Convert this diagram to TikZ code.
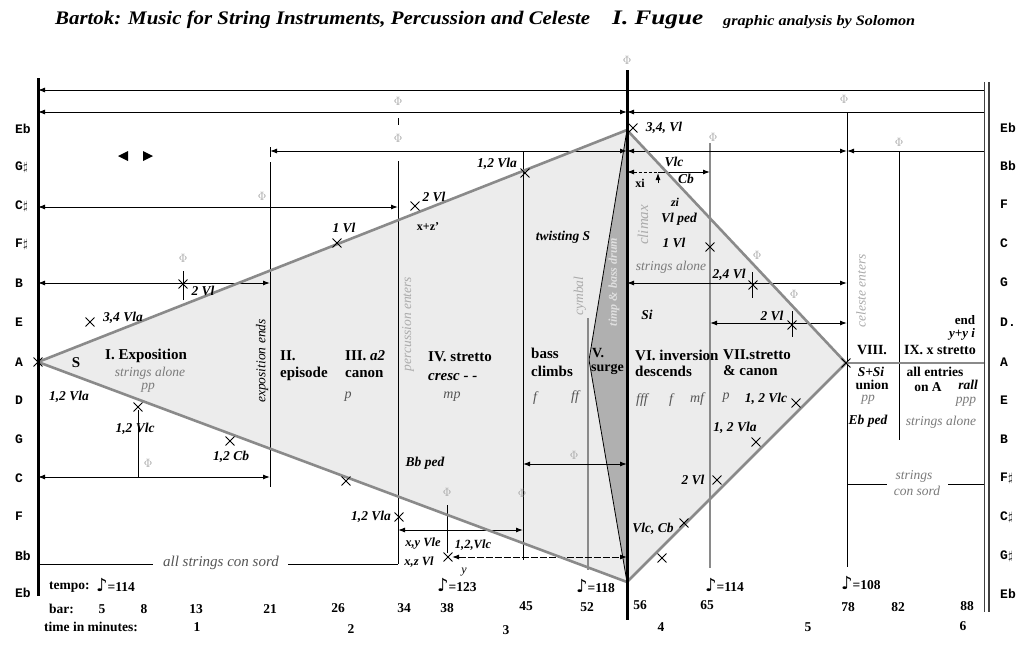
\documentclass[tikz,border=0pt]{standalone}
\usepackage{fontspec}
\usepackage{graphicx}
\setmainfont{Liberation Serif}
\newfontfamily\dejavu{DejaVu Sans}
\newfontfamily\monob{Liberation Mono}
\usetikzlibrary{arrows.meta,shapes.misc}
\definecolor{lightfill}{HTML}{ECECEC}
\definecolor{wedgec}{HTML}{B0B0B0}
\definecolor{edgec}{HTML}{8A8A8A}
\definecolor{txtgray}{HTML}{7A7A7A}
\definecolor{ltgray}{HTML}{ABABAB}
\definecolor{dyngray}{HTML}{555555}
\definecolor{phigray}{HTML}{A8A8A8}
\newcommand\fsz[1]{\fontsize{#1}{#1}\selectfont}
\newcommand\nt{{\dejavu\fsz{18}♪}}
\newcommand\xmk[2]{\node[xmark] (#1) at (#2) {};}
\begin{document}
\begin{tikzpicture}[x=1pt,y=-1pt,
  >={Latex[length=7pt,width=5pt]},
  sec/.style={font=\bfseries\fsz{15}, inner sep=0pt, anchor=west},
  inst/.style={font=\bfseries\itshape\fsz{13.5}, inner sep=0pt},
  grt/.style={font=\itshape\fsz{13.5}, text=txtgray, inner sep=0pt},
  rot/.style={font=\itshape\fsz{13.5}, text=ltgray, inner sep=0pt, rotate=90},
  dyn/.style={font=\itshape\fsz{14}, text=dyngray, inner sep=0pt},
  num/.style={font=\bfseries\fsz{13.5}, inner sep=0pt},
  pitch/.style={font=\monob\bfseries\fsz{13}, inner sep=0pt, anchor=west},
  phi/.style={text=phigray, font=\fsz{12}, inner sep=0pt},
  xmark/.style={draw, cross out, minimum size=8pt, inner sep=0pt, line width=0.9pt},
  ln/.style={line width=1pt},
  edge/.style={draw=edgec, line width=2.6pt, line join=round, line cap=round}]
\useasboundingbox (0,0) rectangle (1024,661);
\fill[white] (0,0) rectangle (1024,661);

% title
\node[anchor=west, inner sep=0pt] (title) at (55,20) {\resizebox{535pt}{13.5pt}{\bfseries\itshape Bartok: Music for String Instruments, Percussion and Celeste}};
\node[anchor=west, inner sep=0pt] (fugue) at (612,20) {\resizebox{91pt}{13.5pt}{\bfseries\itshape I. Fugue}};
\node[anchor=west, inner sep=0pt] (solo) at (723,22) {\resizebox{192pt}{10pt}{\bfseries\itshape graphic analysis by Solomon}};

% diamond
\coordinate (L) at (38,362);
\coordinate (T) at (627,130);
\coordinate (B) at (627,582);
\coordinate (R) at (846,363);
\coordinate (W) at (589,360);
\fill[lightfill] (L)--(T)--(R)--(B)--cycle;
\fill[wedgec] (T)--(W)--(B)--cycle;
\draw[line width=0.8pt] (T)--(W)--(B);

% vertical lines
\draw[ln] (270,147)--(270,157);
\draw[ln] (270,162)--(270,487);
\draw[ln] (398,118)--(398,125);
\draw[ln] (398,161)--(398,564);
\draw[ln] (523,151)--(523,560);
\draw[ln] (447,505)--(447,553);
\draw[ln] (138,410)--(138,477);
\draw[draw=edgec, line width=2pt] (588,318)--(588,570);
\draw[draw=edgec, line width=1.6pt] (710,143)--(710,568);
\draw[ln] (847,112)--(847,567);
\draw[ln] (899,151)--(899,440);
\draw[ln] (183,271)--(183,300);
\draw[ln] (752,272)--(752,298);
\draw[ln] (792,311)--(792,337);

% horizontal lines
\draw[ln,<-] (38,90)--(984,90);
\draw[ln,<->] (38,112)--(627,112);
\draw[ln,<-] (627,112)--(984,112);
\draw[ln,<->] (270,151)--(627,151);
\draw[ln,<->] (627,151)--(847,151);
\draw[ln,<-] (847,151)--(984,151);
\draw[ln,<->] (38,207)--(398,207);
\draw[ln,<->] (38,283)--(270,283);
\draw[ln,<->] (38,477)--(270,477);
\draw[ln,<->] (398,530)--(523,530);
\draw[ln,<->,dash pattern=on 7pt off 2pt] (452,557)--(627,557);
\draw[ln,<->] (523,464)--(627,464);
\draw[ln] (38,564)--(153,564);
\draw[ln] (288,564)--(398,564);
\draw[ln,<-,dash pattern=on 3pt off 2pt] (627,172)--(658,172);
\draw[ln,->] (658,172)--(710,172);
\draw[line width=0.8pt,->] (658,183)--(658,173);
\draw[ln,<->] (627,283)--(847,283);
\draw[ln,<->] (710,323)--(847,323);
\draw[edge] (R)--(984,363);
\draw[ln] (847,484)--(887,484);
\draw[ln] (948,484)--(984,484);

% outline
\draw[edge] (L)--(T)--(R)--(B)--cycle;

% main verticals
\draw[line width=3pt] (38,78)--(38,596);
\draw[line width=3pt] (627,70)--(627,620);
\draw[line width=1.7pt, draw=black!75] (984.5,82)--(984.5,612);
\draw[line width=1.7pt, draw=black!75] (988.8,82)--(988.8,612);

% small triangles
\fill (118,156)--(128,151)--(128,161)--cycle;
\fill (153,156)--(143,151)--(143,161)--cycle;

% pitch labels
\node[pitch] (pl1) at (15,129) {Eb};
\node[pitch] (pl2) at (15,167) {G$\sharp$};
\node[pitch] (pl3) at (15,206) {C$\sharp$};
\node[pitch] (pl4) at (15,244) {F$\sharp$};
\node[pitch] (pl5) at (15,283) {B};
\node[pitch] (pl6) at (15,322) {E};
\node[pitch] (pl7) at (15,362) {A};
\node[pitch] (pl8) at (15,400) {D};
\node[pitch] (pl9) at (15,439) {G};
\node[pitch] (pl10) at (15,478) {C};
\node[pitch] (pl11) at (15,516) {F};
\node[pitch] (pl12) at (15,556) {Bb};
\node[pitch] (pl13) at (15,593) {Eb};
\node[pitch] (pr1) at (1000,128) {Eb};
\node[pitch] (pr2) at (1000,166) {Bb};
\node[pitch] (pr3) at (1000,204) {F};
\node[pitch] (pr4) at (1000,243) {C};
\node[pitch] (pr5) at (1000,282) {G};
\node[pitch] (pr6) at (1000,322) {D.};
\node[pitch] (pr7) at (1000,362) {A};
\node[pitch] (pr8) at (1000,400) {E};
\node[pitch] (pr9) at (1000,439) {B};
\node[pitch] (pr10) at (1000,478) {F$\sharp$};
\node[pitch] (pr11) at (1000,517) {C$\sharp$};
\node[pitch] (pr12) at (1000,556) {G$\sharp$};
\node[pitch] (pr13) at (1000,594) {Eb};

% phi marks
\node[phi] (f1) at (627,60) {$\Phi$};
\node[phi] (f2) at (398,101) {$\Phi$};
\node[phi] (f3) at (844,99) {$\Phi$};
\node[phi] (f4) at (398,138) {$\Phi$};
\node[phi] (f5) at (713,137) {$\Phi$};
\node[phi] (f6) at (899,142) {$\Phi$};
\node[phi] (f7) at (262,196) {$\Phi$};
\node[phi] (f8) at (183,258) {$\Phi$};
\node[phi] (f9) at (757,255) {$\Phi$};
\node[phi] (f10) at (794,294) {$\Phi$};
\node[phi] (f11) at (148,463) {$\Phi$};
\node[phi] (f12) at (447,492) {$\Phi$};
\node[phi] (f13) at (522,493) {$\Phi$};
\node[phi] (f14) at (574,455) {$\Phi$};

% x marks
\xmk{m1}{38,362}
\xmk{m2}{90,322}
\xmk{m3}{183,284}
\xmk{m4}{138,407}
\xmk{m5}{230,441}
\xmk{m6}{337,243}
\xmk{m7}{415,206}
\xmk{m8}{525,173}
\xmk{m9}{633,128}
\xmk{m10}{710,247}
\xmk{m11}{753,285}
\xmk{m12}{792,325}
\xmk{m13}{846,363}
\xmk{m14}{796,403}
\xmk{m15}{756,442}
\xmk{m16}{717,480}
\xmk{m17}{684,523}
\xmk{m18}{662,558}
\xmk{m19}{346,481}
\xmk{m20}{399,517}
\xmk{m21}{448,557}

% left section texts
\node[font=\bfseries\fsz{15}, inner sep=0pt] (sS) at (76,363) {S};
\node[sec] (s1) at (105,356) {I. Exposition};
\node[grt] (s1a) at (150,373) {strings alone};
\node[grt] (s1b) at (148,388) {pp};
\node[inst] (i1) at (123,318) {3,4 Vla};
\node[inst] (i2) at (69,397) {1,2 Vla};
\node[inst] (i3) at (135,429) {1,2 Vlc};
\node[inst] (i4) at (231,457) {1,2 Cb};
\node[inst] (i5) at (203,291) {2 Vl};
\node[font=\itshape\fsz{13.5}, inner sep=0pt, rotate=90] (expend) at (262,361) {exposition ends};
\node[sec] (s2a) at (280,356) {II.};
\node[sec] (s2b) at (280,374) {episode};
\node[sec] (s3a) at (345,356) {III. \textit{a2}};
\node[sec] (s3b) at (345,374) {canon};
\node[dyn] (s3c) at (348,397) {p};
\node[rot] (perc) at (408,324) {percussion enters};
\node[sec] (s4a) at (428,357) {IV. stretto};
\node[sec, font=\bfseries\itshape\fsz{15}] (s4b) at (428,377) {cresc - -};
\node[dyn] (s4c) at (452,397) {mp};
\node[sec] (s5a) at (531,353) {bass};
\node[sec] (s5b) at (531,371) {climbs};
\node[dyn] (s5c) at (535,398) {f};
\node[dyn] (s5d) at (575,397) {ff};
\node[sec, font=\bfseries\fsz{14}] (s6a) at (592,353) {V.};
\node[sec, font=\bfseries\fsz{14}] (s6b) at (591,369) {surge};
\node[inst] (tw) at (563,237) {twisting S};
\node[rot] (cym) at (580,296) {cymbal};
\node[inst] (i6) at (344,228) {1 Vl};
\node[inst] (i7) at (434,197) {2 Vl};
\node[font=\bfseries\fsz{12}, inner sep=0pt] (xz) at (428,227) {x+z'};
\node[inst] (i8) at (497,164) {1,2 Vla};
\node[inst] (i9) at (664,128) {3,4, Vl};
\node[font=\bfseries\itshape\fsz{12}, inner sep=0pt, rotate=90, text=white!88!black] (timp) at (614,282) {timp \& bass drum};
\node[rot, font=\itshape\fsz{15}] (clim) at (643,225) {climax};

% right side texts
\node[inst] (i10) at (674,162) {Vlc};
\node[inst] (i11) at (686,179) {Cb};
\node[font=\bfseries\fsz{12}, inner sep=0pt] (xi) at (640,183) {xi};
\node[font=\bfseries\itshape\fsz{12}, inner sep=0pt] (zi) at (675,202) {zi};
\node[inst] (i12) at (679,219) {Vl ped};
\node[inst] (i13) at (674,243) {1 Vl};
\node[grt] (sa2) at (671,267) {strings alone};
\node[inst] (i14) at (729,275) {2,4 Vl};
\node[inst] (si) at (647,315) {Si};
\node[inst] (i15) at (772,316) {2 Vl};
\node[rot] (cel) at (861,291) {celeste enters};
\node[font=\bfseries\fsz{13}, inner sep=0pt] (endt) at (965,320) {end};
\node[font=\bfseries\itshape\fsz{13}, inner sep=0pt] (yy) at (962,334) {y+y i};
\node[font=\bfseries\fsz{14}, inner sep=0pt] (s8) at (872,350) {VIII.};
\node[font=\bfseries\fsz{14}, inner sep=0pt] (s9) at (940,350) {IX. x stretto};
\node[inst] (ssi) at (871,372) {S+Si};
\node[font=\bfseries\fsz{13.5}, inner sep=0pt] (un) at (872,385) {union};
\node[grt] (pp8) at (868,400) {pp};
\node[inst] (ebp) at (868,421) {Eb ped};
\node[font=\bfseries\fsz{13.5}, inner sep=0pt] (allen) at (935,372) {all entries};
\node[font=\bfseries\fsz{13.5}, inner sep=0pt] (ona) at (928,387) {on A};
\node[inst] (rall) at (968,385) {rall};
\node[grt] (ppp) at (966,402) {ppp};
\node[grt] (sa3) at (941,422) {strings alone};
\node[sec] (s6ia) at (635,355) {VI. inversion};
\node[sec] (s6ib) at (635,371) {descends};
\node[sec] (s7a) at (723,355) {VII.stretto};
\node[sec] (s7b) at (723,371) {\& canon};
\node[dyn] (d1) at (642,400) {fff};
\node[dyn] (d2) at (671,400) {f};
\node[dyn] (d3) at (697,399) {mf};
\node[dyn] (d4) at (726,398) {p};
\node[inst] (i16) at (766,399) {1, 2 Vlc};
\node[inst] (i17) at (735,428) {1, 2 Vla};
\node[inst] (i18) at (693,480) {2 Vl};
\node[inst] (i19) at (653,529) {Vlc, Cb};
\node[grt] (scs1) at (914,476) {strings};
\node[grt] (scs2) at (917,491) {con sord};

% bottom-left texts
\node[inst] (bbp) at (425,463) {Bb ped};
\node[inst] (i20) at (371,517) {1,2 Vla};
\node[inst, font=\bfseries\itshape\fsz{12.5}] (i21) at (423,544) {x,y Vle};
\node[inst, font=\bfseries\itshape\fsz{12.5}] (i22) at (419,562) {x,z Vl};
\node[inst, font=\bfseries\itshape\fsz{12.5}] (i23) at (473,545) {1,2,Vlc};
\node[font=\itshape\fsz{12}, inner sep=0pt] (yl) at (464,572) {y};
\node[grt, font=\itshape\fsz{15}, text=dyngray] (acs) at (221,563) {all strings con sord};

% tempo, bars, time
\node[num, anchor=west] (tempo) at (49,587) {tempo:};
\node[num, anchor=west] (t1) at (96,585) {\nt=114};
\node[num, anchor=west] (t2) at (437,585) {\nt=123};
\node[num, anchor=west] (t3) at (576,586) {\nt=118};
\node[num, anchor=west] (t4) at (705,585) {\nt=114};
\node[num, anchor=west] (t5) at (841,583) {\nt=108};
\node[num, anchor=west] (bar) at (49,609) {bar:};
\node[num] (b1) at (102,609) {5};
\node[num] (b2) at (144,609) {8};
\node[num] (b3) at (196,609) {13};
\node[num] (b4) at (270,609) {21};
\node[num] (b5) at (338,608) {26};
\node[num] (b6) at (404,608) {34};
\node[num] (b7) at (447,608) {38};
\node[num] (b8) at (526,606) {45};
\node[num] (b9) at (587,607) {52};
\node[num] (b10) at (640,605) {56};
\node[num] (b11) at (707,605) {65};
\node[num] (b12) at (848,607) {78};
\node[num] (b13) at (898,607) {82};
\node[num] (b14) at (967,606) {88};
\node[num, anchor=west] (tim) at (44,627) {time in minutes:};
\node[num] (m1l) at (197,627) {1};
\node[num] (m2l) at (351,629) {2};
\node[num] (m3l) at (506,630) {3};
\node[num] (m4l) at (661,627) {4};
\node[num] (m5l) at (808,627) {5};
\node[num] (m6l) at (963,626) {6};
\end{tikzpicture}
\end{document}
